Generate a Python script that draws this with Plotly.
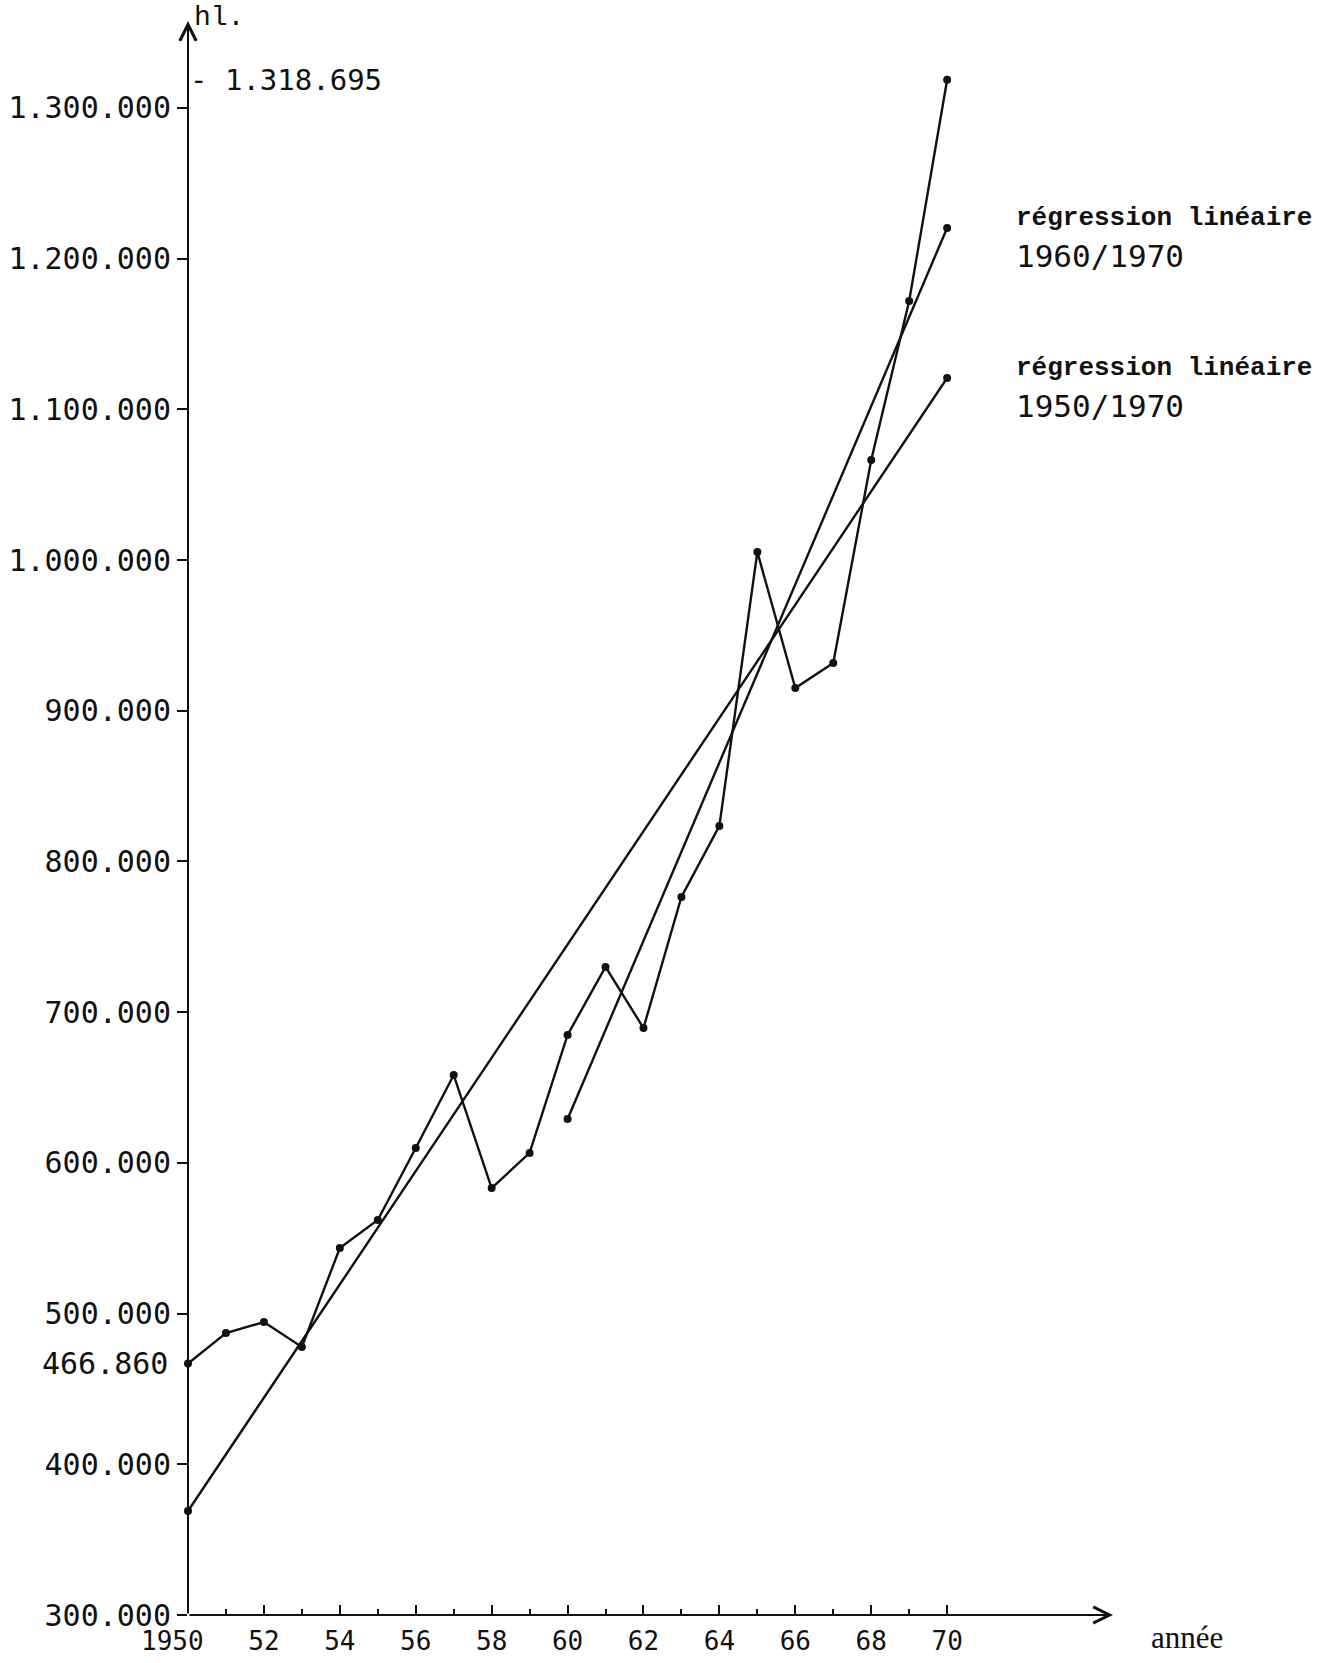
import plotly.graph_objects as go

# ---- data ----
years = list(range(1950, 1971))
production_hl = [466860, 487100, 494400, 477800, 543500, 562100, 609900, 658300,
                 583300, 606600, 684900, 730000, 689500, 776400, 823600, 1005400,
                 915100, 931700, 1066400, 1171900, 1318695]

reg_5070_years = [1950, 1970]
reg_5070_values = [369000, 1120800]
reg_6070_years = [1960, 1970]
reg_6070_values = [629100, 1220400]

y_tick_vals = [300000, 400000, 500000, 600000, 700000, 800000, 900000,
               1000000, 1100000, 1200000, 1300000]
y_tick_text = ["300.000", "400.000", "500.000", "600.000", "700.000", "800.000",
               "900.000", "1.000.000", "1.100.000", "1.200.000", "1.300.000"]
x_tick_vals = [1950, 1952, 1954, 1956, 1958, 1960, 1962, 1964, 1966, 1968, 1970]
x_tick_text = ["1950\u00a0\u00a0", "52", "54", "56", "58", "60", "62", "64", "66", "68", "70"]

X_MAX = 1974.37
Y_MIN, Y_MAX = 300000, 1357700

INK = "#111111"
MONO = "DejaVu Sans Mono"
TYPE = "Liberation Mono"

fig = go.Figure()

line_style = dict(color=INK, width=2.4)
marker_style = dict(color=INK, size=8)

fig.add_trace(go.Scatter(x=years, y=production_hl, mode="lines+markers",
                         line=line_style, marker=marker_style, cliponaxis=False,
                         showlegend=False))
fig.add_trace(go.Scatter(x=reg_5070_years, y=reg_5070_values, mode="lines+markers",
                         line=line_style, marker=marker_style, cliponaxis=False,
                         showlegend=False))
fig.add_trace(go.Scatter(x=reg_6070_years, y=reg_6070_values, mode="lines+markers",
                         line=line_style, marker=marker_style, cliponaxis=False,
                         showlegend=False))

annotations = []
# axes with arrows
annotations.append(dict(x=X_MAX, y=Y_MIN, ax=1950, ay=Y_MIN, xref="x", yref="y",
                        axref="x", ayref="y", showarrow=True, arrowhead=5,
                        arrowsize=1.6, arrowwidth=2, arrowcolor=INK, text=""))
annotations.append(dict(x=1950, y=Y_MAX, ax=1950, ay=Y_MIN, xref="x", yref="y",
                        axref="x", ayref="y", showarrow=True, arrowhead=5,
                        arrowsize=1.6, arrowwidth=2, arrowcolor=INK, text=""))
# unit labels
annotations.append(dict(x=1950, y=Y_MAX, xref="x", yref="y", text="hl.",
                        showarrow=False, xanchor="left", yanchor="middle",
                        xshift=4, yshift=4,
                        font=dict(family=TYPE, size=28, color=INK)))
annotations.append(dict(x=X_MAX, y=Y_MIN, xref="x", yref="y", text="année",
                        showarrow=False, xanchor="left", yanchor="middle",
                        xshift=36, yshift=-22,
                        font=dict(family="Liberation Serif", size=31, color=INK)))
# special values
annotations.append(dict(x=1950, y=production_hl[-1], xref="x", yref="y",
                        text="- 1.318.695", showarrow=False, xanchor="left",
                        yanchor="middle", xshift=0,
                        font=dict(family=MONO, size=29, color=INK)))
annotations.append(dict(x=1950, y=production_hl[0], xref="x", yref="y",
                        text="466.860", showarrow=False, xanchor="right",
                        yanchor="middle", xshift=-18,
                        font=dict(family=MONO, size=30, color=INK)))
# regression labels
for yv, period in [(reg_6070_values[-1], "1960/1970"), (reg_5070_values[-1], "1950/1970")]:
    annotations.append(dict(x=1971.75, y=yv, xref="x", yref="y",
                            text="<b>régression linéaire</b>", showarrow=False,
                            xanchor="left", yanchor="middle", yshift=10,
                            font=dict(family=TYPE, size=26, color=INK)))
    annotations.append(dict(x=1971.75, y=yv, xref="x", yref="y",
                            text=period, showarrow=False,
                            xanchor="left", yanchor="middle", yshift=-28,
                            font=dict(family=MONO, size=31, color=INK)))

fig.update_layout(
    width=1334, height=1663,
    margin=dict(l=188, r=221, t=21, b=48, pad=0, autoexpand=False),
    paper_bgcolor="white", plot_bgcolor="white",
    showlegend=False,
    annotations=annotations,
    xaxis=dict(range=[1950, X_MAX], showgrid=False, zeroline=False, showline=False,
               automargin=False,
               tickmode="array", tickvals=x_tick_vals, ticktext=x_tick_text,
               ticks="inside", ticklen=10, tickwidth=2, tickcolor=INK,
               minor=dict(tickmode="array", tickvals=list(range(1951, 1970, 2)),
                          ticks="inside", ticklen=6, tickwidth=2, tickcolor=INK),
               tickfont=dict(family=MONO, size=26, color=INK),
               ticklabelstandoff=8),
    yaxis=dict(range=[Y_MIN, Y_MAX], showgrid=False, zeroline=False, showline=False,
               automargin=False,
               tickmode="array", tickvals=y_tick_vals, ticktext=y_tick_text,
               ticks="outside", ticklen=10, tickwidth=2, tickcolor=INK,
               tickfont=dict(family=MONO, size=30, color=INK),
               ticklabelstandoff=0),
)

fig.write_html("out.html", config={"displayModeBar": False},
               post_script="document.body.style.margin='0';document.body.style.overflow='hidden';")
